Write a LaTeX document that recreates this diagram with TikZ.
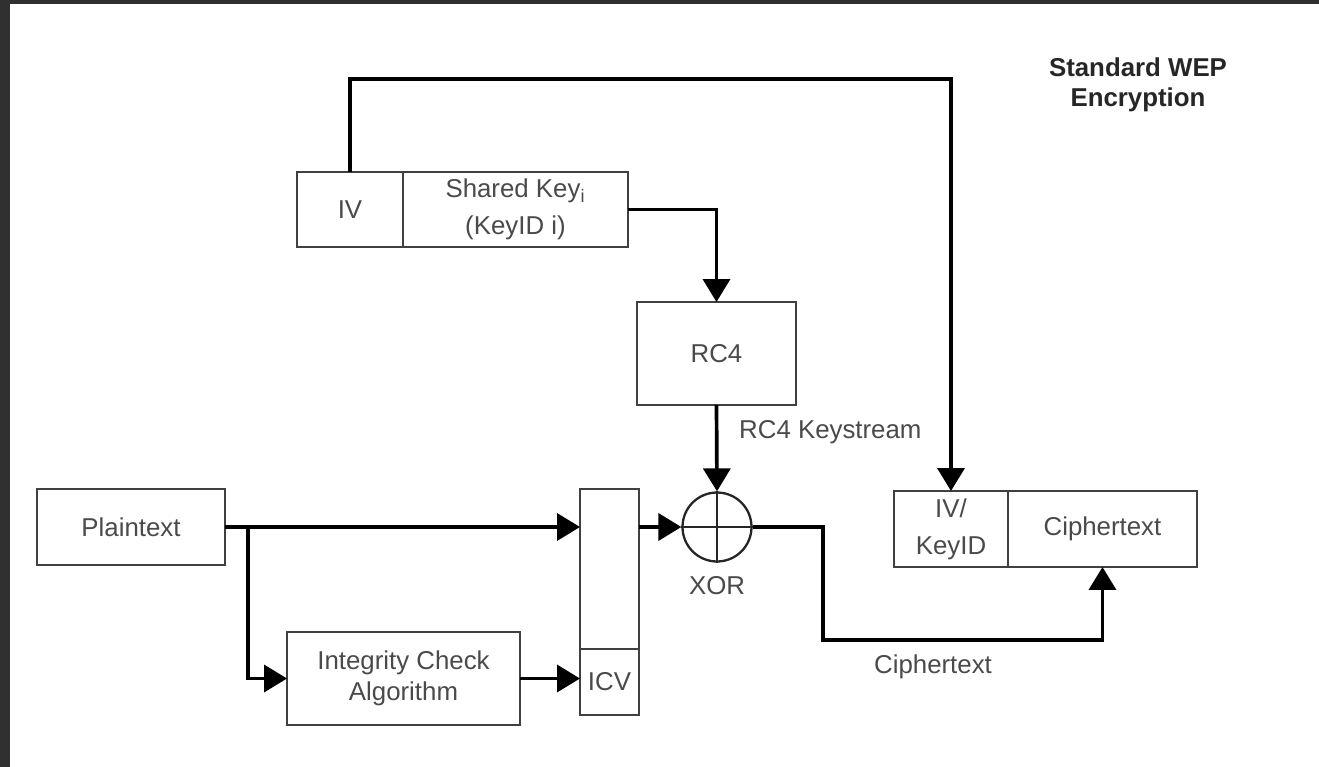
\documentclass[tikz,border=0pt]{standalone}
\usepackage{fontspec}
\setmainfont{Liberation Sans}
\usetikzlibrary{arrows.meta, positioning}
\definecolor{framegray}{HTML}{303030}
\definecolor{textgray}{HTML}{4A4A4A}

\begin{document}
\begin{tikzpicture}[x=0.02cm, y=-0.02cm, >={Triangle[length=0.46cm, width=0.54cm]},
  every node/.style={font=\fontsize{14.7}{18}\selectfont, text=textgray},
  box/.style={rectangle, draw=black!75, line width=1.4pt, outer sep=0pt, inner sep=0pt, minimum width=#1, align=center},
  box/.default=3cm,
  link/.style={line width=2.1pt, draw=black}]
  % page and dark frame
  \useasboundingbox (0,0) rectangle (1319,767);
  \fill[white] (0,0) rectangle (1319,767);
  \fill[framegray] (0,0) rectangle (1319,4.5);
  \fill[framegray] (0,0) rectangle (10,767);
  % key material
  \node[box=2.12cm, minimum height=1.5cm] (iv) at (350,209.5) {IV};
  \node[box=4.5cm, minimum height=1.5cm, right=0pt of iv] (key) {Shared Key\textsubscript{i}\\[3pt](KeyID i)};
  \node[box=3.18cm, minimum height=2.06cm] (rc4) at (716.5,353.5) {RC4};
  \node[circle, draw=black!85, line width=1.3pt, minimum size=1.38cm, inner sep=0pt] (xor) at (717,527) {};
  \draw[black!85, line width=1.3pt] (xor.north) -- (xor.south) (xor.west) -- (xor.east);
  \node (xorlbl) at (717,586) {XOR};
  % plaintext side
  \node[box=3.76cm, minimum height=1.52cm] (plain) at (131,527) {Plaintext};
  \node[box=1.18cm, minimum height=3.2cm] (tall) at (609.5,569) {};
  \node[box=1.18cm, minimum height=1.32cm, below=0pt of tall] (icv) {ICV};
  \node[box=4.66cm, minimum height=1.86cm] (integ) at (403.5,678.5) {Integrity Check\\Algorithm};
  % output frame
  \node[box=2.28cm, minimum height=1.52cm] (ivk) at (951,529) {IV/\\[3pt]KeyID};
  \node[box=3.78cm, minimum height=1.52cm, right=0pt of ivk] (ciph) {Ciphertext};
  \node[font=\fontsize{14.7}{17}\selectfont\bfseries, text=black!85, align=center] (title) at (1138,85) {Standard WEP\\Encryption};
  \node[anchor=west] (ksl) at (733,432) {RC4 Keystream};
  \node (cipl) at (933,667) {Ciphertext};
  \coordinate (top) at (650,79);
  \coordinate (split) at (248,527);
  \coordinate (bend) at (823,640);
  % connectors
  \draw[link, ->] (iv.north) |- (top) -| (ivk.north);
  \draw[link, ->] (key.east) -| (rc4.north);
  \draw[link, ->] (rc4.south) -- (xor.north);
  \draw[link, ->] (plain.east) -- (plain.east -| tall.west);
  \draw[link, ->] (split) |- (integ.west);
  \draw[link, ->] (integ.east) -- (integ.east -| icv.west);
  \draw[link, ->] (xor.west -| tall.east) -- (xor.west);
  \draw[link, ->] (xor.east) -| (bend) -| (ciph.south);
\end{tikzpicture}
\end{document}
